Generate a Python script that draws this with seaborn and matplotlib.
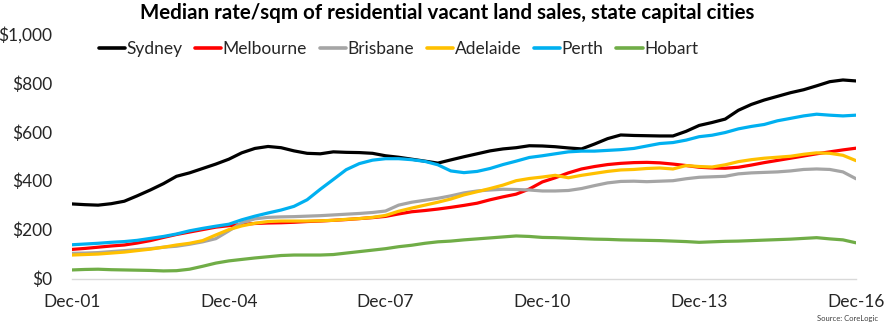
import matplotlib
matplotlib.use("Agg")
import matplotlib.pyplot as plt
import matplotlib.dates as mdates
from matplotlib.ticker import FuncFormatter
import numpy as np
import pandas as pd
import seaborn as sns

# Quarterly median rate per square metre, Dec-2001 to Dec-2016
dates = pd.date_range("2001-12-01", "2016-12-01", freq="3MS")

sydney = [305, 302, 300, 306, 316, 338, 362, 388, 418, 432, 450, 468, 488,
          514, 532, 540, 535, 522, 512, 510, 518, 516, 515, 512, 502, 496,
          488, 480, 472, 485, 498, 510, 522, 530, 535, 543, 542, 539, 534,
          530, 550, 572, 587, 585, 584, 583, 583, 602, 626, 638, 652, 688,
          712, 730, 745, 760, 772, 788, 805, 812, 808]
melbourne = [119, 123, 128, 133, 137, 145, 155, 168, 180, 190, 200, 210, 216,
             221, 225, 227, 228, 230, 233, 235, 238, 241, 245, 249, 254, 264,
             273, 278, 284, 291, 299, 308, 322, 334, 345, 366, 395, 412, 432,
             448, 458, 466, 471, 474, 475, 473, 468, 462, 455, 452, 451, 455,
             464, 474, 483, 492, 501, 510, 518, 526, 533]
brisbane = [103, 104, 106, 110, 114, 118, 122, 128, 132, 140, 150, 163, 195,
            228, 244, 250, 252, 253, 255, 257, 260, 263, 266, 270, 276, 300,
            312, 320, 328, 338, 350, 358, 362, 365, 364, 362, 358, 358, 360,
            368, 380, 391, 397, 398, 396, 398, 400, 408, 414, 416, 418, 428,
            432, 434, 436, 440, 446, 448, 446, 436, 408]
adelaide = [96, 98, 100, 104, 108, 114, 120, 128, 137, 144, 155, 178, 200,
            215, 226, 233, 235, 235, 235, 236, 238, 242, 245, 250, 258, 275,
            288, 300, 312, 325, 342, 355, 368, 382, 400, 409, 415, 422, 412,
            422, 430, 438, 444, 446, 450, 452, 448, 462, 458, 456, 465, 478,
            486, 492, 496, 500, 508, 514, 512, 504, 482]
perth = [138, 141, 144, 148, 151, 156, 164, 172, 182, 195, 205, 214, 222,
         240, 255, 268, 280, 295, 322, 365, 405, 445, 470, 484, 490, 490,
         486, 479, 465, 440, 433, 438, 450, 466, 480, 495, 502, 510, 518,
         521, 521, 524, 527, 532, 542, 552, 556, 566, 580, 586, 597, 612,
         622, 630, 645, 655, 665, 672, 668, 665, 668]
hobart = [35, 37, 38, 36, 35, 34, 33, 31, 32, 38, 50, 63, 72, 78, 84, 89, 94,
          96, 96, 96, 98, 104, 110, 116, 122, 130, 136, 144, 150, 153, 158,
          162, 166, 170, 174, 172, 168, 167, 165, 163, 161, 160, 158, 157,
          156, 155, 153, 151, 148, 150, 152, 153, 155, 157, 159, 161, 164,
          167, 162, 158, 146]

cities = ["Sydney", "Melbourne", "Brisbane", "Adelaide", "Perth", "Hobart"]
colors = ["#000000", "#ff0000", "#a5a5a5", "#ffc000", "#00b0f0", "#70ad47"]
series = [sydney, melbourne, brisbane, adelaide, perth, hobart]

df = pd.concat(
    [pd.DataFrame({"date": dates, "value": vals, "city": name})
     for name, vals in zip(cities, series)],
    ignore_index=True,
)

sns.set_theme(style="white")
plt.rcParams["font.family"] = ["Lato", "DejaVu Sans"]

fig = plt.figure(figsize=(8.85, 3.26), dpi=100)
ax = fig.add_axes([0.0814, 0.1457, 0.8858, 0.75])

sns.lineplot(data=df, x="date", y="value", hue="city", hue_order=cities,
             palette=dict(zip(cities, colors)), linewidth=2.3, ax=ax,
             legend=False)

ax.set_xlim(pd.Timestamp("2001-12-01"), pd.Timestamp("2016-12-01"))
ax.set_ylim(0, 1000)
ax.set_yticks(np.arange(0, 1001, 200))
ax.yaxis.set_major_formatter(FuncFormatter(lambda v, p: f"${v:,.0f}"))
ax.set_xticks([pd.Timestamp(f"{y}-12-01") for y in range(2001, 2017, 3)])
ax.xaxis.set_major_formatter(mdates.DateFormatter("%b-%y"))
ax.set_xlabel("")
ax.set_ylabel("")

for s in ["top", "right", "left"]:
    ax.spines[s].set_visible(False)
ax.spines["bottom"].set_color("#d9d9d9")
ax.spines["bottom"].set_linewidth(1.0)
ax.tick_params(axis="x", direction="out", length=5, width=1.0,
               color="#d9d9d9", labelsize=12.5, labelcolor="#262626", pad=6)
ax.tick_params(axis="y", length=0, labelsize=12.5, labelcolor="#262626",
               pad=14)

handles = [plt.Line2D([], [], color=c, linewidth=2.6) for c in colors]
ax.legend(handles, cities, ncol=6, loc="upper left",
          bbox_to_anchor=(0.025, 1.0), frameon=False, fontsize=12.5,
          handlelength=1.5, handletextpad=0.08, columnspacing=0.75,
          borderaxespad=0.0, labelcolor="#262626")

fig.suptitle("Median rate/sqm of residential vacant land sales, state capital cities",
             x=0.505, y=0.99, fontsize=14.8, fontweight="bold", color="#000000")
fig.text(0.992, 0.012, "Source: CoreLogic", ha="right", va="bottom",
         fontsize=5.5, color="#404040")

fig.savefig("out.png", dpi=100)
